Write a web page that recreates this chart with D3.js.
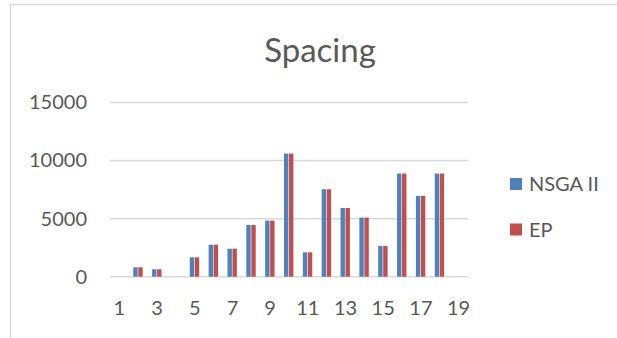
<!DOCTYPE html>
<html>
<head>
<meta charset="utf-8">
<script src="https://cdn.jsdelivr.net/npm/d3@7"></script>
<style>
  html, body { margin: 0; padding: 0; background: #fff; }
  svg { display: block; }
  text { font-family: Lato, "Open Sans", sans-serif; fill: #595959; }
</style>
</head>
<body>
<svg id="chart" width="617" height="338"></svg>
<script>
// Run indices 1..19
const categories = d3.range(1, 20).map(String);
const seriesNames = ["NSGA II", "EP"];
const nsgaValues = [0, 810, 640, 0, 1670, 2760, 2410, 4450, 4830, 10600, 2100, 7530, 5920, 5090, 2650, 8880, 6960, 8880, 0];
const epValues   = [0, 810, 640, 0, 1670, 2760, 2410, 4450, 4830, 10600, 2100, 7530, 5920, 5090, 2650, 8880, 6960, 8880, 0];
const yTicks = [0, 5000, 10000, 15000];
const xTickLabels = ["1", "3", "5", "7", "9", "11", "13", "15", "17", "19"];
const colors = ["#4f81bd", "#c0504d"];

const svg = d3.select("#chart");

// chart frame
svg.append("rect")
  .attr("x", 10.5).attr("y", 4.5)
  .attr("width", 700).attr("height", 400)
  .attr("fill", "#fff")
  .attr("stroke", "#d9d9d9").attr("stroke-width", 1.5);

const plot = { left: 110, right: 468, top: 102.5, bottom: 276.7 };

const x = d3.scaleBand().domain(categories).range([plot.left, plot.right]).padding(0);
const bw = x.bandwidth();
const inner = d3.scaleBand().domain(seriesNames).range([bw / 2 - 5, bw / 2 + 5]).padding(0);
const y = d3.scaleLinear().domain([0, 15000]).range([plot.bottom, plot.top]);

// title
svg.append("text")
  .attr("x", 320).attr("y", 62)
  .attr("text-anchor", "middle")
  .style("font-size", "33px")
  .text("Spacing");

// horizontal gridlines
svg.append("g")
  .selectAll("line")
  .data(yTicks)
  .join("line")
  .attr("x1", plot.left).attr("x2", plot.right)
  .attr("y1", d => y(d)).attr("y2", d => y(d))
  .attr("stroke", "#d9d9d9").attr("stroke-width", 1.5);

// y axis labels
const yAxis = d3.axisLeft(y).tickValues(yTicks).tickSize(0).tickPadding(23).tickFormat(d3.format("d"));
const gy = svg.append("g").attr("transform", `translate(${plot.left},0)`).call(yAxis);
gy.select(".domain").remove();
gy.selectAll("text").style("font-size", "20px").attr("fill", "#595959");

// x axis labels (odd runs)
const xAxis = d3.axisBottom(x).tickValues(xTickLabels).tickSize(0).tickPadding(24);
const gx = svg.append("g").attr("transform", `translate(0,${plot.bottom})`).call(xAxis);
gx.select(".domain").remove();
gx.selectAll("text").style("font-size", "20px").attr("fill", "#595959");

// bars
const rows = categories.map((c, i) => ({ cat: c, vals: [nsgaValues[i], epValues[i]] }));
const groups = svg.append("g")
  .selectAll("g")
  .data(rows)
  .join("g")
  .attr("transform", d => `translate(${x(d.cat)},0)`);

groups.selectAll("rect")
  .data(d => d.vals.map((v, k) => ({ name: seriesNames[k], v, k })))
  .join("rect")
  .attr("x", d => inner(d.name))
  .attr("width", inner.bandwidth() - 0.6)
  .attr("y", d => y(d.v))
  .attr("height", d => y(0) - y(d.v))
  .attr("fill", d => colors[d.k]);

// legend
const legend = svg.append("g")
  .selectAll("g")
  .data(seriesNames)
  .join("g")
  .attr("transform", (d, i) => `translate(510,${178 + i * 45.5})`);
legend.append("rect")
  .attr("width", 12).attr("height", 12)
  .attr("fill", (d, i) => colors[i]);
legend.append("text")
  .attr("x", 19).attr("y", 13)
  .style("font-size", "20px")
  .text(d => d);
</script>
</body>
</html>
